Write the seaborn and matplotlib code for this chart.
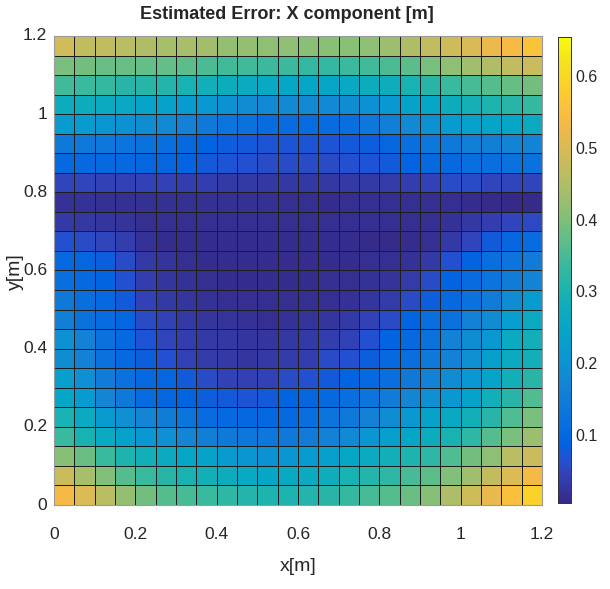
import numpy as np
import pandas as pd
import seaborn as sns
from matplotlib import pyplot as plt
from matplotlib.colors import LinearSegmentedColormap

# grid cell centres, 0.05 m spacing (pcolor style, 24 x 24 cells)
x_cells = [round(0.025 + 0.05 * i, 3) for i in range(24)]
y_cells = [round(1.175 - 0.05 * i, 3) for i in range(24)]  # top row first

tick_vals = ["0", "0.2", "0.4", "0.6", "0.8", "1", "1.2"]
cbar_ticks = [0.1, 0.2, 0.3, 0.4, 0.5, 0.6]

# estimated error, x component [m]; rows from y=1.2 (top) down to y=0
err = [
    [0.49, 0.47, 0.47, 0.46, 0.45, 0.44, 0.44, 0.435, 0.42, 0.42, 0.415, 0.415, 0.41, 0.41, 0.41, 0.415, 0.43, 0.45, 0.47, 0.485, 0.50, 0.525, 0.54, 0.56],
    [0.395, 0.39, 0.38, 0.38, 0.375, 0.375, 0.37, 0.355, 0.345, 0.345, 0.34, 0.34, 0.33, 0.33, 0.34, 0.345, 0.355, 0.37, 0.395, 0.415, 0.435, 0.45, 0.47, 0.48],
    [0.343, 0.337, 0.33, 0.317, 0.317, 0.31, 0.298, 0.285, 0.272, 0.265, 0.259, 0.252, 0.252, 0.252, 0.259, 0.272, 0.278, 0.298, 0.317, 0.337, 0.35, 0.363, 0.376, 0.389],
    [0.272, 0.272, 0.265, 0.259, 0.246, 0.239, 0.22, 0.213, 0.2, 0.187, 0.18, 0.18, 0.18, 0.18, 0.187, 0.2, 0.213, 0.239, 0.252, 0.272, 0.291, 0.304, 0.317, 0.33],
    [0.22, 0.22, 0.207, 0.2, 0.187, 0.18, 0.161, 0.142, 0.128, 0.122, 0.109, 0.109, 0.109, 0.109, 0.115, 0.135, 0.155, 0.18, 0.2, 0.22, 0.239, 0.246, 0.252, 0.265],
    [0.142, 0.142, 0.135, 0.128, 0.122, 0.115, 0.102, 0.09, 0.083, 0.077, 0.07, 0.07, 0.07, 0.07, 0.077, 0.083, 0.096, 0.115, 0.135, 0.142, 0.155, 0.155, 0.167, 0.167],
    [0.102, 0.102, 0.102, 0.102, 0.096, 0.096, 0.09, 0.077, 0.07, 0.064, 0.057, 0.057, 0.057, 0.057, 0.064, 0.07, 0.077, 0.09, 0.102, 0.102, 0.115, 0.115, 0.122, 0.122],
    [0.05, 0.05, 0.044, 0.044, 0.044, 0.044, 0.037, 0.037, 0.031, 0.031, 0.028, 0.028, 0.028, 0.028, 0.031, 0.031, 0.034, 0.037, 0.044, 0.057, 0.057, 0.05, 0.05, 0.05],
    [0.018, 0.018, 0.017, 0.017, 0.016, 0.016, 0.016, 0.016, 0.016, 0.016, 0.016, 0.015, 0.013, 0.012, 0.014, 0.015, 0.015, 0.015, 0.014, 0.013, 0.012, 0.009, 0.007, 0.008],
    [0.031, 0.028, 0.025, 0.021, 0.015, 0.013, 0.015, 0.015, 0.015, 0.015, 0.015, 0.015, 0.015, 0.015, 0.015, 0.015, 0.014, 0.013, 0.013, 0.018, 0.028, 0.037, 0.05, 0.054],
    [0.064, 0.057, 0.05, 0.037, 0.018, 0.012, 0.012, 0.012, 0.012, 0.012, 0.012, 0.012, 0.012, 0.012, 0.012, 0.01, 0.01, 0.012, 0.015, 0.031, 0.05, 0.077, 0.096, 0.109],
    [0.102, 0.096, 0.083, 0.057, 0.031, 0.021, 0.015, 0.012, 0.011, 0.011, 0.011, 0.011, 0.011, 0.011, 0.011, 0.013, 0.013, 0.018, 0.031, 0.064, 0.09, 0.115, 0.128, 0.148],
    [0.115, 0.102, 0.09, 0.064, 0.037, 0.025, 0.018, 0.013, 0.011, 0.011, 0.011, 0.011, 0.011, 0.013, 0.013, 0.018, 0.021, 0.034, 0.057, 0.09, 0.109, 0.128, 0.148, 0.167],
    [0.142, 0.115, 0.102, 0.077, 0.044, 0.031, 0.025, 0.018, 0.015, 0.013, 0.013, 0.013, 0.015, 0.015, 0.018, 0.025, 0.034, 0.057, 0.083, 0.102, 0.122, 0.148, 0.187, 0.22],
    [0.155, 0.122, 0.109, 0.096, 0.057, 0.044, 0.031, 0.025, 0.021, 0.018, 0.015, 0.018, 0.021, 0.025, 0.031, 0.044, 0.057, 0.09, 0.115, 0.122, 0.161, 0.187, 0.226, 0.265],
    [0.2, 0.161, 0.122, 0.102, 0.07, 0.05, 0.037, 0.031, 0.028, 0.025, 0.025, 0.028, 0.031, 0.037, 0.044, 0.064, 0.09, 0.102, 0.122, 0.161, 0.187, 0.213, 0.265, 0.285],
    [0.187, 0.161, 0.122, 0.102, 0.083, 0.064, 0.044, 0.034, 0.031, 0.025, 0.031, 0.034, 0.037, 0.057, 0.064, 0.083, 0.102, 0.115, 0.142, 0.161, 0.193, 0.233, 0.265, 0.285],
    [0.233, 0.193, 0.148, 0.122, 0.102, 0.096, 0.077, 0.057, 0.044, 0.041, 0.044, 0.057, 0.064, 0.077, 0.09, 0.102, 0.115, 0.142, 0.161, 0.187, 0.213, 0.246, 0.285, 0.317],
    [0.252, 0.22, 0.168, 0.142, 0.109, 0.096, 0.09, 0.083, 0.077, 0.07, 0.077, 0.09, 0.096, 0.102, 0.115, 0.128, 0.148, 0.168, 0.193, 0.213, 0.239, 0.285, 0.317, 0.356],
    [0.298, 0.265, 0.22, 0.193, 0.168, 0.148, 0.128, 0.109, 0.102, 0.099, 0.099, 0.102, 0.115, 0.128, 0.142, 0.161, 0.187, 0.213, 0.239, 0.259, 0.285, 0.317, 0.356, 0.395],
    [0.337, 0.298, 0.265, 0.239, 0.213, 0.193, 0.168, 0.155, 0.142, 0.135, 0.135, 0.142, 0.148, 0.161, 0.18, 0.207, 0.233, 0.252, 0.272, 0.298, 0.324, 0.363, 0.395, 0.428],
    [0.408, 0.382, 0.337, 0.304, 0.285, 0.265, 0.252, 0.239, 0.22, 0.207, 0.2, 0.207, 0.22, 0.233, 0.252, 0.265, 0.285, 0.304, 0.324, 0.356, 0.389, 0.415, 0.46, 0.48],
    [0.48, 0.44, 0.402, 0.363, 0.337, 0.317, 0.298, 0.285, 0.272, 0.259, 0.252, 0.259, 0.265, 0.278, 0.298, 0.31, 0.324, 0.35, 0.369, 0.402, 0.434, 0.473, 0.505, 0.538],
    [0.538, 0.505, 0.46, 0.421, 0.389, 0.363, 0.35, 0.337, 0.324, 0.31, 0.304, 0.304, 0.31, 0.317, 0.33, 0.35, 0.363, 0.382, 0.408, 0.447, 0.486, 0.518, 0.551, 0.59],
]

# parula-like colormap
parula = LinearSegmentedColormap.from_list("parula", [
    (0 / 63, (0.2081, 0.1663, 0.5292)),
    (4 / 63, (0.1959, 0.2645, 0.7279)),
    (6 / 63, (0.1253, 0.3242, 0.8303)),
    (8 / 63, (0.0117, 0.3875, 0.8820)),
    (12 / 63, (0.0498, 0.4586, 0.8641)),
    (16 / 63, (0.0793, 0.5200, 0.8312)),
    (20 / 63, (0.0343, 0.5966, 0.8199)),
    (24 / 63, (0.0228, 0.6535, 0.7768)),
    (28 / 63, (0.0843, 0.6928, 0.7062)),
    (32 / 63, (0.2178, 0.7250, 0.6193)),
    (36 / 63, (0.3953, 0.7459, 0.5244)),
    (40 / 63, (0.5709, 0.7485, 0.4494)),
    (44 / 63, (0.7184, 0.7411, 0.3905)),
    (48 / 63, (0.8507, 0.7299, 0.3360)),
    (52 / 63, (0.9739, 0.7314, 0.2666)),
    (56 / 63, (0.9880, 0.8066, 0.1794)),
    (60 / 63, (0.9589, 0.8949, 0.1132)),
    (63 / 63, (0.9763, 0.9831, 0.0538)),
])

sns.set_style("white")
plt.rcParams["font.family"] = ["Liberation Sans Narrow", "Liberation Sans", "DejaVu Sans"]

df = pd.DataFrame(err, index=y_cells, columns=x_cells)

fig = plt.figure(figsize=(6.1, 5.89), dpi=100)
ax = fig.add_axes([0.0885, 0.1426, 0.8, 0.7963])
cax = fig.add_axes([0.9148, 0.146, 0.0213, 0.7915])

sns.heatmap(df, ax=ax, cbar_ax=cax, cmap=parula, vmin=0.005, vmax=0.655,
            linewidths=0.6, linecolor="#1e1e1e", square=False)

ax.set_xticks(np.arange(0, 25, 4))
ax.set_xticklabels(tick_vals, rotation=0, fontsize=12.5, color="#262626")
ax.set_yticks(np.arange(0, 25, 4))
ax.set_yticklabels(tick_vals[::-1], rotation=0, fontsize=12.5, color="#262626")
ax.tick_params(axis="both", direction="in", length=3, width=0.6, color="#555555")
ax.tick_params(axis="x", pad=16)
ax.tick_params(axis="y", pad=5)
for s in ax.spines.values():
    s.set_visible(True)
    s.set_color("#9a9a9a")
    s.set_linewidth(0.8)

ax.set_xlabel("x[m]", fontsize=14, color="#262626")
ax.xaxis.set_label_coords(0.5, -0.113)
ax.set_ylabel("y[m]", fontsize=14, color="#262626")
ax.yaxis.set_label_coords(-0.062, 0.497)
ax.set_title("Estimated Error: X component [m]", fontsize=13, fontweight="bold", x=0.477, y=1.018)

cax.set_yticks(cbar_ticks)
cax.set_yticklabels([f"{t:g}" for t in cbar_ticks], fontsize=11.5, color="#262626")
cax.tick_params(direction="in", length=3, width=0.6, color="#444444", pad=3)
for s in cax.spines.values():
    s.set_visible(True)
    s.set_color("#333333")
    s.set_linewidth(0.6)

fig.savefig("out.png", dpi=100)
